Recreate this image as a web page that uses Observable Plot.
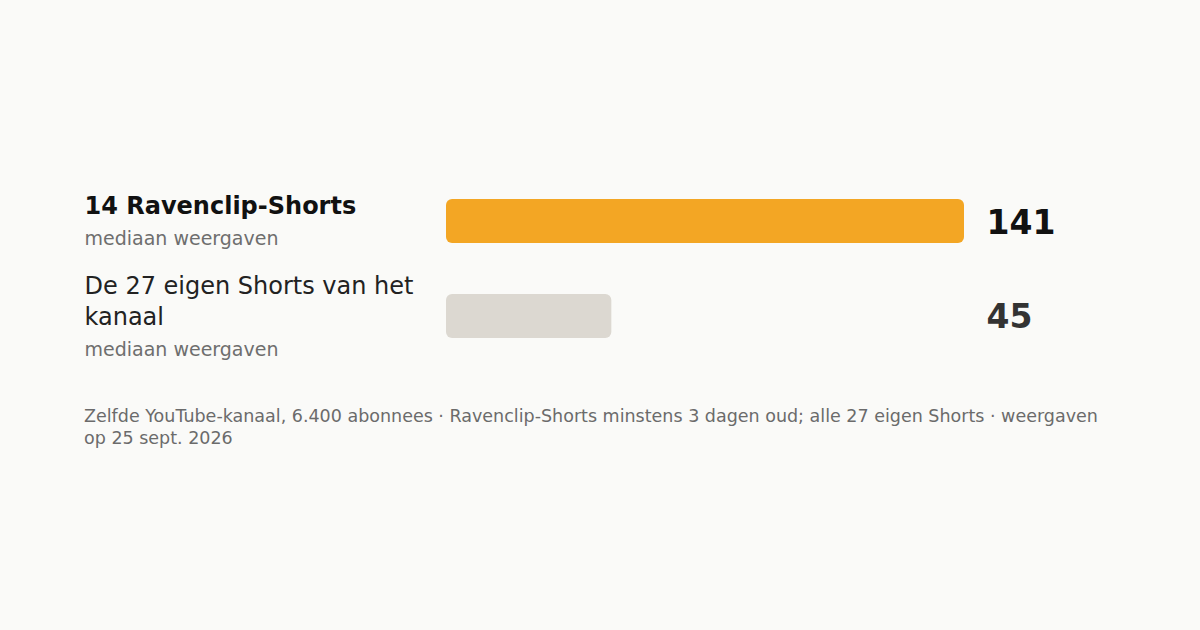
<!DOCTYPE html>
<html><head><meta charset="utf-8">
<script src="https://cdn.jsdelivr.net/npm/d3@7"></script>
<script src="https://cdn.jsdelivr.net/npm/@observablehq/plot@0.6"></script>
<style>
html,body{margin:0;padding:0;background:#fafaf8;}
body{width:1200px;height:630px;overflow:hidden;font-family:"DejaVu Sans",sans-serif;}
#chart svg{display:block;}
#note{margin:6px 0 0 84px;width:1032px;font-size:17.5px;line-height:21.5px;color:#6b6b6b;}
</style></head><body>
<div id="chart"></div>
<div id="note"></div>
<script>
// ---- data ----
const categories = ["14 Ravenclip-Shorts", "De 27 eigen Shorts van het kanaal"];
const subLabels = ["mediaan weergaven", "mediaan weergaven"];
const values = [141, 45];
const valueLabels = ["141", "45"];
const highlighted = [true, false];
const noteText = "Zelfde YouTube-kanaal, 6.400 abonnees · Ravenclip-Shorts minstens 3 dagen oud; alle 27 eigen Shorts · weergaven op 25 sept. 2026";

// ---- layout helpers ----
const FONT = "DejaVu Sans";
const ctx = document.createElement("canvas").getContext("2d");
function wrap(text, font, maxW) {
  ctx.font = font;
  const words = text.split(" ");
  const lines = [];
  let cur = "";
  for (const w of words) {
    const t = cur ? cur + " " + w : w;
    if (cur && ctx.measureText(t).width > maxW) { lines.push(cur); cur = w; }
    else cur = t;
  }
  lines.push(cur);
  return lines;
}

const rows = categories.map((c, i) => {
  const hi = highlighted[i];
  const lines = wrap(c, `${hi ? "bold " : ""}24px "${FONT}"`, 340);
  return {cat: c, title: lines.join("\n"), k: lines.length, sub: subLabels[i],
          value: values[i], label: valueLabels[i], hi};
});

const LH = 31.2, S = 23.8;
const labelMarks = rows.flatMap(r => {
  const first = -(r.k + 1) * LH / 2 + S;
  return [
    Plot.text([r], {
      y: "cat", text: "title", frameAnchor: "left", dx: -362, textAnchor: "start",
      lineAnchor: "bottom", lineHeight: 1.3, fontSize: 24,
      fontWeight: r.hi ? 700 : 400, fill: r.hi ? "#111111" : "#222222",
      dy: first + (r.k - 1) * LH
    }),
    Plot.text([r], {
      y: "cat", text: "sub", frameAnchor: "left", dx: -362, textAnchor: "start",
      lineAnchor: "bottom", fontSize: 19, fill: "#6e6e6e",
      dy: first + r.k * LH
    })
  ];
});

const chart = Plot.plot({
  width: 1200,
  height: 400,
  marginLeft: 446,
  marginRight: 236,
  marginTop: 148,
  marginBottom: 11,
  style: {background: "transparent", fontFamily: `"${FONT}", sans-serif`},
  x: {domain: [0, d3.max(values)], axis: null},
  y: {domain: categories, paddingInner: 0.537, paddingOuter: 0.537, round: false, axis: null},
  color: {type: "identity"},
  marks: [
    Plot.barX(rows, {x: "value", y: "cat", rx: 6,
      fill: d => d.hi ? "#f3a624" : "#dcd8d1"}),
    ...labelMarks,
    Plot.text(rows, {
      y: "cat", text: "label", frameAnchor: "right", dx: 22, textAnchor: "start",
      lineAnchor: "bottom", dy: 12, fontSize: 33, fontWeight: 700,
      fill: d => d.hi ? "#111111" : "#333333"
    })
  ]
});
document.getElementById("chart").appendChild(chart);
document.getElementById("note").textContent = noteText;
</script>
</body></html>
